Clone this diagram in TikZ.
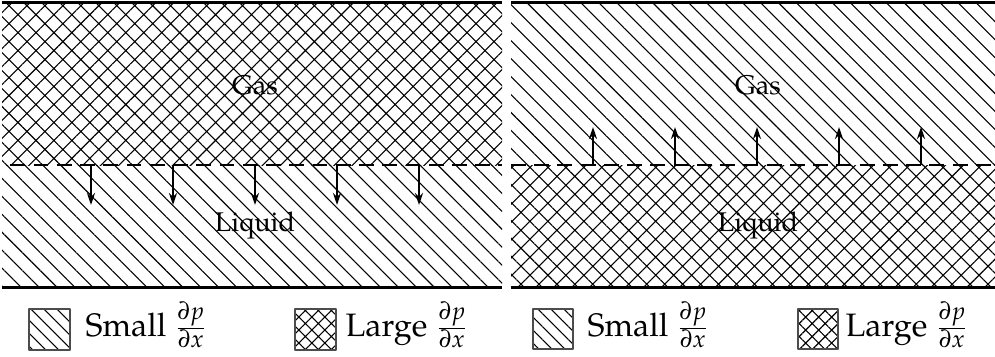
\documentclass[tikz,border=0pt]{standalone}
\usepackage[T1]{fontenc}
\usepackage{mathpazo}
\usepackage{amsmath}
\usepackage{tikz}
\usetikzlibrary{arrows.meta,patterns.meta}

\tikzset{
  small grad/.style={pattern={Lines[angle=-45,distance=4.7pt,line width=0.4pt]}},
  large grad/.style={pattern={Hatch[angle=45,distance=4.7pt,line width=0.4pt]}},
  small key/.style={pattern={Lines[angle=-45,distance=3.4pt,line width=0.4pt]}},
  large key/.style={pattern={Hatch[angle=45,distance=3.4pt,line width=0.4pt]}},
  wall/.style={line width=1pt},
  iface/.style={line width=0.8pt,dash pattern=on 5.5pt off 3.1pt},
  flux/.style={->,line width=0.8pt},
  phase/.style={font=\normalsize,inner sep=0pt},
  keytext/.style={font=\large,inner sep=0pt,anchor=west}
}

\begin{document}
\begin{tikzpicture}[x=0.37pt,y=0.37pt,>={Stealth[length=4.5pt,width=3pt]},line join=round]
  \useasboundingbox (0,0) rectangle (995,-356);
  % left: gas with large gradient on top
  \coordinate (LA) at (2,-2.5);
  \coordinate (LB) at (502,-165);
  \coordinate (LC) at (2,-165);
  \coordinate (LD) at (502,-287.5);
  \fill[large grad] (LA) rectangle (LB);
  \fill[small grad] (LC) rectangle (LD);
  \draw[wall] (LA) -- (LA -| LD);
  \draw[wall] (LC |- LD) -- (LD);
  \draw[iface,dash phase=5.5pt] (LC) -- (LB);
  \foreach \x in {91,173,255,337,419}
    \draw[flux] (\x,-165) -- ++(0,-40);
  \node[phase] (gasL) at (255,-85) {Gas};
  \node[phase] (liqL) at (255,-226) {Liquid};
  % right: liquid with large gradient below
  \coordinate (RA) at (511,-2.5);
  \coordinate (RB) at (995,-165);
  \coordinate (RC) at (511,-165);
  \coordinate (RD) at (995,-287.5);
  \fill[small grad] (RA) rectangle (RB);
  \fill[large grad] (RC) rectangle (RD);
  \draw[wall] (RA) -- (RA -| RD);
  \draw[wall] (RC |- RD) -- (RD);
  \draw[iface] (RC) -- (RB);
  \foreach \x in {593,675,757,839,921}
    \draw[flux] (\x,-165) -- ++(0,38);
  \node[phase] (gasR) at (758,-85) {Gas};
  \node[phase] (liqR) at (758,-226) {Liquid};
  % legends
  \draw[line width=0.4pt,draw=black!70,small key] (29,-309) rectangle ++(41,-41);
  \node[keytext] (smallL) at (85,-325) {Small $\frac{\partial p}{\partial x}$};
  \draw[line width=0.4pt,draw=black!70,large key] (295,-309) rectangle ++(41,-41);
  \node[keytext] (largeL) at (345,-325) {Large $\frac{\partial p}{\partial x}$};
  \draw[line width=0.4pt,draw=black!70,small key] (533,-309) rectangle ++(40,-40);
  \node[keytext] (smallR) at (587,-325) {Small $\frac{\partial p}{\partial x}$};
  \draw[line width=0.4pt,draw=black!70,large key] (798,-309) rectangle ++(40,-40);
  \node[keytext] (largeR) at (845,-325) {Large $\frac{\partial p}{\partial x}$};
\end{tikzpicture}
\end{document}
